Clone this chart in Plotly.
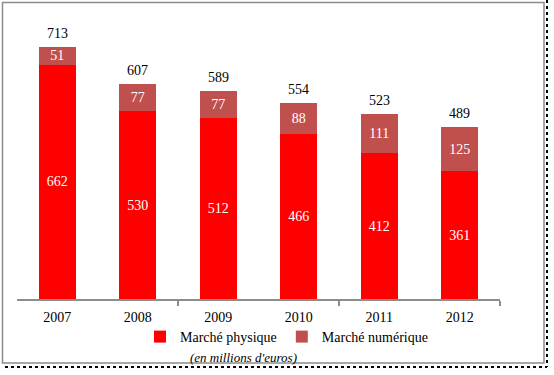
import plotly.graph_objects as go

years = ["2007", "2008", "2009", "2010", "2011", "2012"]
physique = [662, 530, 512, 466, 412, 361]
numerique = [51, 77, 77, 88, 111, 125]
totals = [713, 607, 589, 554, 523, 489]

W, H = 554, 375
L, R, T, B = 17, 54, 23, 76
PW, PH = W - L - R, H - T - B

def px(x):
    return (x - L) / PW

def py(y):
    return (H - B - y) / PH

FONT = "Liberation Serif"
xs = list(range(len(years)))

fig = go.Figure()
fig.add_trace(go.Bar(
    x=xs, y=physique, name="Marché physique", marker_color="#FF0000",
    text=[str(v) for v in physique], textposition="inside", insidetextanchor="middle",
    textangle=0, constraintext="none",
    textfont=dict(color="white", size=14, family=FONT), marker_line_width=0,
))
fig.add_trace(go.Bar(
    x=xs, y=numerique, name="Marché numérique", marker_color="#C0504D",
    text=[str(v) for v in numerique], textposition="inside", insidetextanchor="middle",
    textangle=0, constraintext="none",
    textfont=dict(color="white", size=14, family=FONT), marker_line_width=0,
))

for i, (s, t) in enumerate(zip([p + n for p, n in zip(physique, numerique)], totals)):
    fig.add_annotation(x=xs[i], y=s, text=str(t), showarrow=False, yanchor="bottom",
                       yshift=4, font=dict(size=14, family=FONT, color="black"))

fig.add_annotation(xref="paper", yref="paper", x=px(243), y=py(357),
                   xanchor="center", yanchor="middle",
                   text="<i>(en millions d'euros)</i>", showarrow=False,
                   font=dict(size=13, family=FONT, color="black"))

# chart border
fig.add_shape(type="rect", xref="paper", yref="paper", x0=px(2.5), x1=px(544), y0=py(2.5), y1=py(363),
              line=dict(color="#8C8C8C", width=1.5), layer="below")
fig.add_shape(type="line", xref="paper", yref="paper", x0=px(547), x1=px(547), y0=py(0), y1=py(367),
              line=dict(color="black", width=2, dash="dot"))
fig.add_shape(type="line", xref="paper", yref="paper", x0=px(5), x1=px(547), y0=py(367), y1=py(367),
              line=dict(color="black", width=2, dash="dot"))

fig.update_layout(
    width=W, height=H, margin=dict(l=L, r=R, t=T, b=B, autoexpand=False),
    barmode="stack", bargap=0.54,
    paper_bgcolor="white", plot_bgcolor="white",
    font=dict(family=FONT, size=14, color="black"),
    showlegend=True,
    legend=dict(orientation="h", x=px(140), y=py(337), xanchor="left", yanchor="middle",
                traceorder="normal",
                font=dict(size=14, family=FONT), itemwidth=30, tracegroupgap=0,
                bgcolor="rgba(0,0,0,0)"),
    xaxis=dict(range=[-0.5, 5.5], tickvals=xs, ticktext=years, ticks="",
               showline=True, linecolor="#8C8C8C", linewidth=1.5, showgrid=False, zeroline=False,
               tickfont=dict(size=14, family=FONT), ticklabelstandoff=4,
               minor=dict(tickmode="array", tickvals=[1.5, 3.5, 5.5], ticks="outside", ticklen=5,
                          tickcolor="#8C8C8C", tickwidth=1.5, showgrid=False)),
    yaxis=dict(range=[0, 780], visible=False),
)

fig.write_html("out.html", config={"displayModeBar": False},
               post_script="document.body.style.margin='0';")
